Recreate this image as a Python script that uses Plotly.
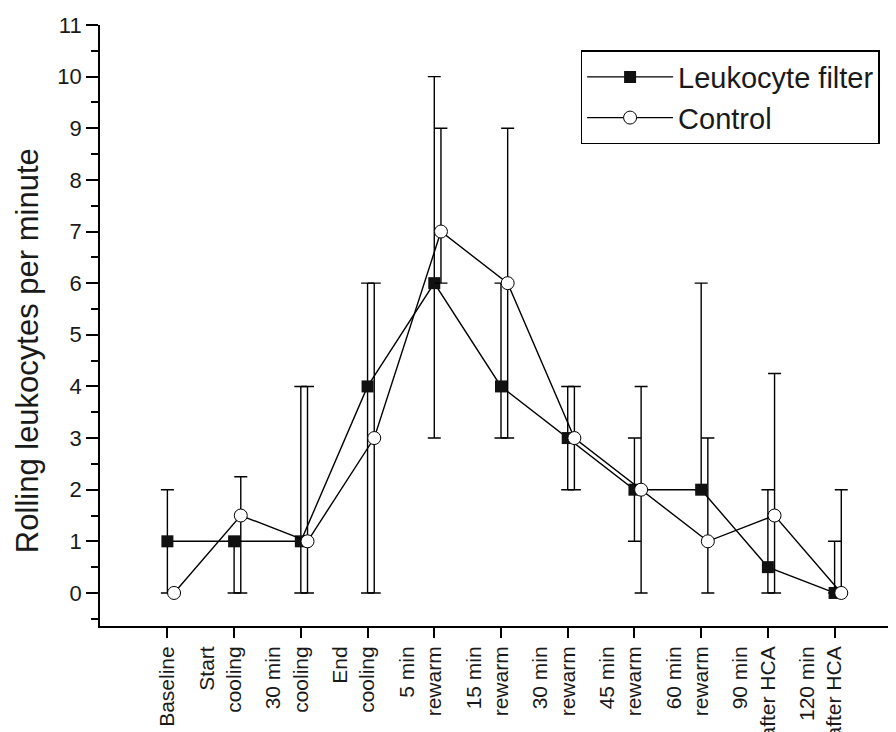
import plotly.graph_objects as go

categories = ["Baseline", "Start<br>cooling<br> ", "30 min<br>cooling<br> ", "End<br>cooling<br> ",
              "5 min<br>rewarm<br> ", "15 min<br>rewarm<br> ", "30 min<br>rewarm<br> ",
              "45 min<br>rewarm<br> ", "60 min<br>rewarm<br> ", "90 min<br>after HCA<br> ",
              "120 min<br>after HCA<br> "]

filter_median = [1, 1, 1, 4, 6, 4, 3, 2, 2, 0.5, 0]
filter_low = [0, 0, 0, 0, 3, 3, 2, 1, 2, 0, 0]
filter_high = [2, 1, 4, 6, 10, 6, 4, 3, 6, 2, 1]

control_median = [0, 1.5, 1, 3, 7, 6, 3, 2, 1, 1.5, 0]
control_low = [0, 0, 0, 0, 6, 3, 2, 0, 0, 0, 0]
control_high = [0, 2.25, 4, 6, 9, 9, 4, 4, 3, 4.25, 2]

y_ticks = list(range(0, 12))
y_title = "Rolling leukocytes per minute"

FONT = "Liberation Sans, Arial, Helvetica, sans-serif"
TXT = "#1a1a1a"
CONTROL_SHIFT = 0.1

pos = list(range(len(categories)))
pos_c = [p + CONTROL_SHIFT for p in pos]

fig = go.Figure()

fig.add_trace(go.Scatter(
    x=pos, y=filter_median, name="Leukocyte filter", mode="lines+markers",
    line=dict(color="black", width=1.4),
    marker=dict(symbol="square", size=12, color="#111111", line=dict(width=0)),
    error_y=dict(type="data", symmetric=False,
                 array=[h - m for h, m in zip(filter_high, filter_median)],
                 arrayminus=[m - l for m, l in zip(filter_median, filter_low)],
                 color="black", thickness=1.4, width=6.5),
))

fig.add_trace(go.Scatter(
    x=pos_c, y=control_median, name="Control", mode="lines+markers",
    line=dict(color="black", width=1.4),
    marker=dict(symbol="circle", size=13, color="white", line=dict(color="black", width=1)),
    error_y=dict(type="data", symmetric=False,
                 array=[h - m for h, m in zip(control_high, control_median)],
                 arrayminus=[m - l for m, l in zip(control_median, control_low)],
                 color="black", thickness=1.4, width=6.5),
))

fig.add_annotation(
    text=y_title, textangle=-90, xref="paper", yref="paper",
    x=-0.0908, y=0.459, xanchor="center", yanchor="middle", showarrow=False,
    font=dict(size=31, family=FONT, color=TXT),
)

fig.update_layout(
    width=896, height=732,
    margin=dict(l=92, r=0, t=17, b=114, autoexpand=False),
    paper_bgcolor="white", plot_bgcolor="white",
    font=dict(family=FONT, color=TXT, size=21),
    showlegend=True,
    legend=dict(x=0.598, y=0.958, xanchor="left", yanchor="top",
                bordercolor="black", borderwidth=1.3, bgcolor="white",
                font=dict(size=29, family=FONT, color=TXT),
                itemwidth=86, tracegroupgap=0),
    xaxis=dict(range=[-1.01, 11.04], tickmode="array", tickvals=pos, ticktext=categories,
               tickangle=-90, ticks="outside", ticklen=10, tickwidth=1.5, tickcolor="black",
               showline=True, linecolor="black", linewidth=1.8, showgrid=False, zeroline=False,
               automargin=False,
               tickfont=dict(size=21, family=FONT, color=TXT)),
    yaxis=dict(range=[-0.64, 11], tickmode="array", tickvals=y_ticks,
               ticks="outside", ticklen=12, tickwidth=1.5, tickcolor="black",
               minor=dict(dtick=0.5, tick0=0, ticks="outside", ticklen=7, tickwidth=1.5, tickcolor="black"),
               showline=True, linecolor="black", linewidth=1.8, showgrid=False, zeroline=False,
               automargin=False,
               tickfont=dict(size=22, family=FONT, color=TXT)),
)

fig.write_html("out.html")
